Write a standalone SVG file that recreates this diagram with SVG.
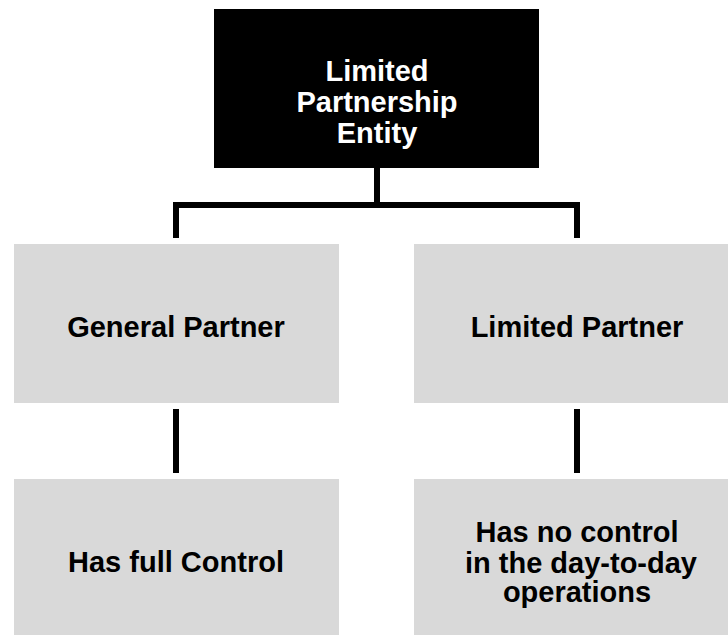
<svg xmlns="http://www.w3.org/2000/svg" width="728" height="635" viewBox="0 0 728 635">
<style>
.box{fill:#d9d9d9}
.top{fill:#000}
.t{font-family:"Liberation Sans",Arial,sans-serif;font-weight:bold;font-size:29px;text-anchor:middle;fill:#000}
.w{fill:#fff}
.c{stroke:#000;stroke-width:6;fill:none}
</style>
<rect width="728" height="635" fill="#fff"/>
<g id="connectors">
<path class="c" d="M377,168 V205 M173,205 H580 M176,205 V238 M577,205 V238"/>
<path class="c" d="M176,409 V473 M577,409 V473"/>
</g>
<g id="entity">
<rect class="top" x="214" y="9" width="325" height="159"/>
<text class="t w" x="377" y="81">Limited</text>
<text class="t w" x="377" y="112">Partnership</text>
<text class="t w" x="377" y="143">Entity</text>
</g>
<g id="general">
<rect class="box" x="14" y="244" width="325" height="159"/>
<text class="t" x="176" y="337">General Partner</text>
</g>
<g id="limited">
<rect class="box" x="414" y="244" width="314" height="159"/>
<text class="t" x="577" y="337">Limited Partner</text>
</g>
<g id="fullcontrol">
<rect class="box" x="14" y="479" width="325" height="156"/>
<text class="t" x="176" y="572">Has full Control</text>
</g>
<g id="nocontrol">
<rect class="box" x="414" y="479" width="314" height="156"/>
<text class="t" x="577" y="542">Has no control</text>
<text class="t" x="581" y="573">in the day-to-day</text>
<text class="t" x="577" y="602">operations</text>
</g>
</svg>
